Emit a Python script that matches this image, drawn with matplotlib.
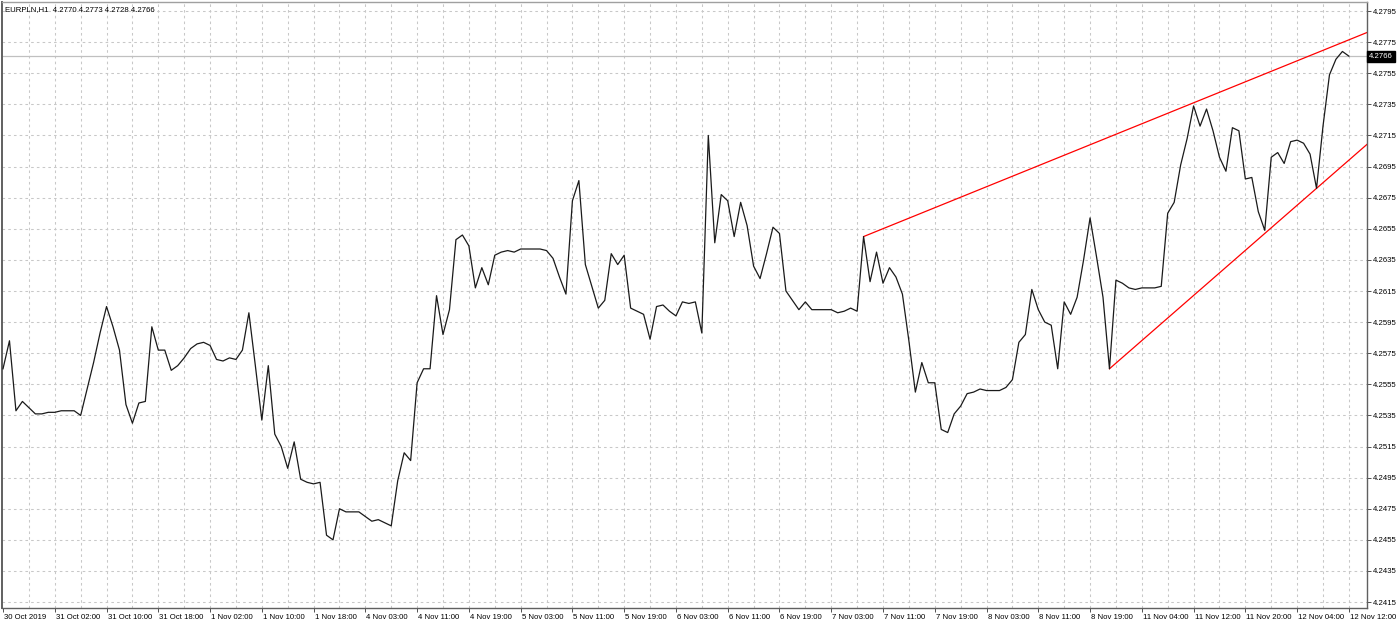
import matplotlib
matplotlib.use("Agg")
import matplotlib.pyplot as plt
import matplotlib.transforms as mtransforms
import numpy as np

plt.rcParams['font.family'] = ['Liberation Sans', 'DejaVu Sans']

symbol_title = "EURPLN,H1  4.2770 4.2773 4.2728 4.2766"

close = [
    4.2565, 4.2583, 4.2538, 4.2544, 4.2540, 4.2536, 4.2536, 4.2537, 4.2537, 4.2538,
    4.2538, 4.2538, 4.2535, 4.2552, 4.2569, 4.2588, 4.2605, 4.2592, 4.2577, 4.2542,
    4.2530, 4.2543, 4.2544, 4.2592, 4.2577, 4.2577, 4.2564, 4.2567, 4.2572, 4.2578,
    4.2581, 4.2582, 4.2580, 4.2571, 4.2570, 4.2572, 4.2571, 4.2577, 4.2601, 4.2567,
    4.2532, 4.2567, 4.2523, 4.2515, 4.2501, 4.2518, 4.2494, 4.2492, 4.2491, 4.2492,
    4.2458, 4.2455, 4.2475, 4.2473, 4.2473, 4.2473, 4.2470, 4.2467, 4.2468, 4.2466,
    4.2464, 4.2493, 4.2511, 4.2506, 4.2556, 4.2565, 4.2565, 4.2612, 4.2587, 4.2603,
    4.2648, 4.2651, 4.2644, 4.2617, 4.2630, 4.2619, 4.2638, 4.2640, 4.2641, 4.2640,
    4.2642, 4.2642, 4.2642, 4.2642, 4.2641, 4.2636, 4.2624, 4.2613, 4.2673, 4.2686,
    4.2632, 4.2618, 4.2604, 4.2609, 4.2639, 4.2632, 4.2638, 4.2604, 4.2602, 4.2600,
    4.2584, 4.2605, 4.2606, 4.2602, 4.2599, 4.2608, 4.2607, 4.2608, 4.2588, 4.2715,
    4.2646, 4.2677, 4.2673, 4.2650, 4.2672, 4.2657, 4.2631, 4.2623, 4.2639, 4.2656,
    4.2652, 4.2615, 4.2609, 4.2603, 4.2608, 4.2603, 4.2603, 4.2603, 4.2603, 4.2601,
    4.2602, 4.2604, 4.2602, 4.2650, 4.2621, 4.2640, 4.2620, 4.2630, 4.2624, 4.2613,
    4.2583, 4.2550, 4.2569, 4.2556, 4.2556, 4.2526, 4.2524, 4.2536, 4.2541, 4.2549,
    4.2550, 4.2552, 4.2551, 4.2551, 4.2551, 4.2553, 4.2558, 4.2582, 4.2587, 4.2616,
    4.2603, 4.2595, 4.2593, 4.2565, 4.2608, 4.2600, 4.2611, 4.2635, 4.2662, 4.2637,
    4.2611, 4.2565, 4.2622, 4.2620, 4.2617, 4.2616, 4.2617, 4.2617, 4.2617, 4.2618,
    4.2665, 4.2672, 4.2696, 4.2713, 4.2734, 4.2721, 4.2732, 4.2718, 4.2701, 4.2692,
    4.2720, 4.2718, 4.2687, 4.2688, 4.2666, 4.2654, 4.2701, 4.2704, 4.2697, 4.2711,
    4.2712, 4.2710, 4.2703, 4.2681, 4.2721, 4.2754, 4.2764, 4.2769, 4.2766,
]

time_labels = [
    "30 Oct 2019", "31 Oct 02:00", "31 Oct 10:00", "31 Oct 18:00", "1 Nov 02:00",
    "1 Nov 10:00", "1 Nov 18:00", "4 Nov 03:00", "4 Nov 11:00", "4 Nov 19:00",
    "5 Nov 03:00", "5 Nov 11:00", "5 Nov 19:00", "6 Nov 03:00", "6 Nov 11:00",
    "6 Nov 19:00", "7 Nov 03:00", "7 Nov 11:00", "7 Nov 19:00", "8 Nov 03:00",
    "8 Nov 11:00", "8 Nov 19:00", "11 Nov 04:00", "11 Nov 12:00", "11 Nov 20:00",
    "12 Nov 04:00", "12 Nov 12:00",
]

price_levels = [4.2415, 4.2435, 4.2455, 4.2475, 4.2495, 4.2515, 4.2535, 4.2555,
                4.2575, 4.2595, 4.2615, 4.2635, 4.2655, 4.2675, 4.2695, 4.2715,
                4.2735, 4.2755, 4.2775, 4.2795]

current_price = 4.2766

# trend line anchors: (bar index, price)
upper_trend = [(133, 4.2650), (184, 4.2736)]
lower_trend = [(171, 4.2565), (203, 4.2681)]

W, H = 1400, 626
fig = plt.figure(figsize=(W / 100, H / 100), dpi=100)
ax = fig.add_axes([2 / W, 1 - 608 / H, (1367 - 2) / W, (608 - 2) / H])

x = np.arange(len(close))
xmin, xmax = -0.155, 210.8
ymin, ymax = 4.24112, 4.28008
ax.set_xlim(xmin, xmax)
ax.set_ylim(ymin, ymax)

grid_kw = dict(color='#c8c8c8', lw=0.75, ls=(0, (2.5, 3)), zorder=0)
for p in price_levels:
    ax.axhline(p, **grid_kw)
for gx in range(4, int(xmax) + 1, 4):
    ax.axvline(gx, **grid_kw)

ax.axhline(current_price, color='#c0c0c0', lw=0.9, zorder=1)

ax.plot(x, close, color='#1a1a1a', lw=0.9, zorder=3)

for (x0, y0), (x1, y1) in (upper_trend, lower_trend):
    slope = (y1 - y0) / (x1 - x0)
    ax.plot([x0, xmax], [y0, y0 + slope * (xmax - x0)], color='#ff0000', lw=0.9,
            zorder=2, clip_on=True)

# axes styling
for s in ax.spines.values():
    s.set_color('#606060')
    s.set_linewidth(1.0)
ax.spines['left'].set_linewidth(1.4)
ax.spines['top'].set_color('#a0a0a0')

fs = 5.6
ax.yaxis.tick_right()
ax.set_yticks(price_levels)
ax.set_yticklabels([f"{p:.4f}" for p in price_levels], fontsize=fs, color='black')
ax.tick_params(axis='y', direction='out', length=3, width=0.7, color='#505050', pad=1.5)

tick_pos = list(range(0, 8 * len(time_labels), 8))
ax.set_xticks(tick_pos)
ax.set_xticklabels(time_labels, fontsize=fs, color='black', ha='left')
ax.tick_params(axis='x', direction='out', length=3, width=0.7, color='#505050', pad=1.5)
offset = mtransforms.ScaledTranslation(1.0 / 100, 0, fig.dpi_scale_trans)
for lbl in ax.get_xticklabels():
    lbl.set_transform(lbl.get_transform() + offset)

# title at top-left
ax.text(3 / 1365, 1 - 4 / 606, symbol_title, transform=ax.transAxes,
        fontsize=fs, ha='left', va='top', color='black')

# current price label box
ax.text(1.0015, current_price, f"{current_price:.4f}",
        transform=ax.get_yaxis_transform(), fontsize=fs, color='white',
        ha='left', va='center', clip_on=False,
        bbox=dict(boxstyle='square,pad=0.25', fc='black', ec='black'))

fig.savefig("out.png", dpi=100)
